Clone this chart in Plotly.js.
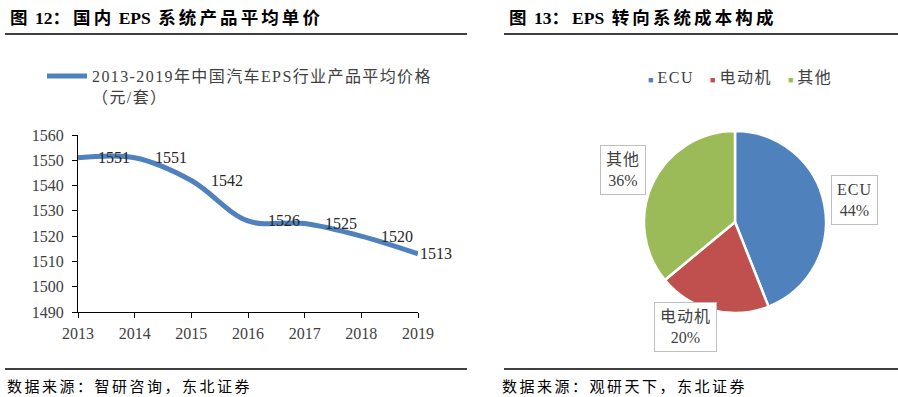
<!DOCTYPE html>
<html>
<head>
<meta charset="utf-8">
<script src="https://cdn.plot.ly/plotly-3.0.1.min.js"></script>
<style>
html,body{margin:0;padding:0;background:#fff;}
#chart{width:898px;height:397px;}
</style>
</head>
<body>
<div id="chart"></div>
<script>
// ---- data ----
const years = [2013, 2014, 2015, 2016, 2017, 2018, 2019];
const prices = [1551, 1551, 1542, 1526, 1525, 1520, 1513];
const lineSeriesName = ["2013-2019年中国汽车EPS行业产品平均价格", "（元/套）"];
const pieLabels = ["ECU", "电动机", "其他"];
const pieValues = [44, 20, 36];
const leftTitle = "图 12：国内 EPS 系统产品平均单价";
const rightTitle = "图 13：EPS 转向系统成本构成";
const leftSource = "数据来源：智研咨询，东北证券";
const rightSource = "数据来源：观研天下，东北证券";

// ---- styling ----
const W = 898, H = 397;
const px = x => x / W;
const py = y => 1 - y / H;
const SERIF = "'Liberation Serif', 'Times New Roman', 'Noto Sans CJK SC', serif";
const CJK = "'Noto Sans CJK SC', sans-serif";
const pieColors = ["#4F81BD", "#C0504D", "#9BBB59"];
const labelShift = [18, 18, 18, 18, 18, 18, 0];
const pieLabelPos = [[854, 200], [685, 327], [623, 170]];
const NB = "\u00a0";
const sp = (t, ls) => '<span style="letter-spacing:' + ls + 'px">' + t + '</span>';
// letter-space only CJK runs (keeps latin tight); keep spaces as non-breaking, inside the runs
const spCJK = (t, ls) => t.replace(/ /g, NB).replace(/(\u00a0*[\u3000-\u9fff\uff00-\uffef]+)/g, m => sp(m, ls));

const traces = [
  {
    type: "scatter",
    mode: "lines",
    x: years,
    y: prices,
    name: sp(lineSeriesName[0], 1.4) + "<br>" + sp(lineSeriesName[1], 1.4),
    line: {color: "#4F81BD", width: 5, shape: "spline", smoothing: 1},
    hoverinfo: "skip",
    xaxis: "x", yaxis: "y",
    showlegend: true
  },
  {
    type: "pie",
    labels: pieLabels,
    values: pieValues,
    sort: false,
    direction: "clockwise",
    rotation: 0,
    marker: {colors: pieColors, line: {color: "#ffffff", width: 2.5}},
    textinfo: "none",
    hoverinfo: "skip",
    showlegend: false,
    domain: {x: [px(644), px(826)], y: [py(313), py(131)]}
  }
];

const annotations = [];
// data labels on line
years.forEach((yr, i) => {
  annotations.push({
    x: yr, y: prices[i], xref: "x", yref: "y",
    text: String(prices[i]), showarrow: false,
    xanchor: "left", yanchor: "middle", xshift: labelShift[i],
    font: {family: SERIF, size: 16, color: "#262626"}
  });
});
// pie labels
pieLabels.forEach((lab, i) => {
  annotations.push({
    x: px(pieLabelPos[i][0]), y: py(pieLabelPos[i][1]), xref: "paper", yref: "paper",
    text: sp(lab, 1) + "<br>" + pieValues[i] + "%", showarrow: false,
    xanchor: "center", yanchor: "middle",
    bgcolor: "#ffffff", bordercolor: "#BFBFBF", borderwidth: 1, borderpad: 5,
    font: {family: SERIF, size: 16, color: "#404040"}
  });
});
// pie legend
const legendText = pieLabels.map((lab, i) =>
  '<span style="color:' + pieColors[i] + ';font-size:9px">■</span>' + NB + sp(lab, 1.5)
).join(NB + NB + NB + NB);
annotations.push({
  x: px(646), y: py(78), xref: "paper", yref: "paper",
  text: legendText, showarrow: false, xanchor: "left", yanchor: "middle",
  font: {family: SERIF, size: 16, color: "#404040"}
});
// titles
[[leftTitle, 8], [rightTitle, 507]].forEach(([t, x]) => {
  annotations.push({
    x: px(x), y: py(18), xref: "paper", yref: "paper",
    text: "<b>" + spCJK(t, 3.1) + "</b>", showarrow: false, xanchor: "left", yanchor: "middle",
    font: {family: SERIF, size: 17.5, color: "#000000"}
  });
});
// sources
[[leftSource, 5], [rightSource, 500]].forEach(([t, x]) => {
  annotations.push({
    x: px(x), y: py(385), xref: "paper", yref: "paper",
    text: sp(t, 2.5), showarrow: false, xanchor: "left", yanchor: "middle",
    font: {family: CJK, size: 15, color: "#000000"}
  });
});

const shapes = [
  [5, 467, 34], [504, 898, 34], [5, 467, 369], [504, 898, 369]
].map(([x0, x1, y]) => ({
  type: "line", xref: "paper", yref: "paper",
  x0: px(x0), x1: px(x1), y0: py(y), y1: py(y),
  line: {color: "#000000", width: 1.3}
}));

const axisFont = {family: SERIF, size: 16, color: "#404040"};
const layout = {
  width: W, height: H,
  margin: {l: 0, r: 0, t: 0, b: 0},
  paper_bgcolor: "#ffffff", plot_bgcolor: "#ffffff",
  showlegend: true,
  legend: {
    x: px(42), y: py(59), xanchor: "left", yanchor: "top",
    bgcolor: "rgba(0,0,0,0)", valign: "top", itemwidth: 40,
    font: {family: SERIF, size: 16, color: "#404040"}
  },
  xaxis: {
    domain: [px(78), px(418)],
    range: [2013, 2019], tickvals: years, ticktext: years.map(String),
    showgrid: false, zeroline: false, showline: true, linecolor: "#000000", linewidth: 1,
    ticks: "outside", ticklen: 5, tickcolor: "#000000",
    tickfont: axisFont, anchor: "y", ticklabelstandoff: 2
  },
  yaxis: {
    domain: [py(312), py(135)],
    range: [1490, 1560], dtick: 10,
    showgrid: false, zeroline: false, showline: true, linecolor: "#000000", linewidth: 1,
    ticks: "outside", ticklen: 5, tickcolor: "#000000",
    tickfont: axisFont, anchor: "x", ticklabelstandoff: 5
  },
  annotations: annotations,
  shapes: shapes
};

Plotly.newPlot("chart", traces, layout, {displayModeBar: false, staticPlot: true});
</script>
</body>
</html>
